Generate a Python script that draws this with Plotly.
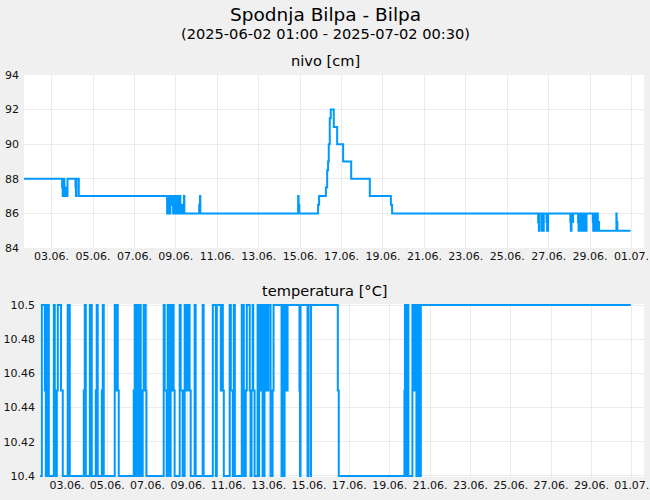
import plotly.graph_objects as go

title_text = "Spodnja Bilpa - Bilpa"
subtitle_text = "(2025-06-02 01:00 - 2025-07-02 00:30)"
panel_titles = ["nivo [cm]", "temperatura [°C]"]

nivo_times = [
    "2025-06-01 16:00", "2025-06-03 12:10", "2025-06-03 12:50", "2025-06-03 13:50", "2025-06-03 14:50",
    "2025-06-03 15:40", "2025-06-03 16:10", "2025-06-03 18:25", "2025-06-04 03:40", "2025-06-04 04:10",
    "2025-06-04 04:50", "2025-06-04 07:30", "2025-06-08 13:50", "2025-06-08 14:40", "2025-06-08 16:10",
    "2025-06-08 17:00", "2025-06-08 17:40", "2025-06-08 19:40", "2025-06-08 20:10", "2025-06-08 20:50",
    "2025-06-08 21:30", "2025-06-08 22:50", "2025-06-09 00:40", "2025-06-09 01:30", "2025-06-09 03:00",
    "2025-06-09 03:40", "2025-06-09 04:20", "2025-06-09 05:10", "2025-06-09 06:30", "2025-06-09 07:40",
    "2025-06-09 09:20", "2025-06-09 09:50", "2025-06-10 03:00", "2025-06-10 04:00", "2025-06-10 04:20",
    "2025-06-14 21:40", "2025-06-14 22:10", "2025-06-14 23:00", "2025-06-15 20:50", "2025-06-15 22:00",
    "2025-06-16 05:50", "2025-06-16 07:20", "2025-06-16 08:25", "2025-06-16 09:10", "2025-06-16 10:20",
    "2025-06-16 11:30", "2025-06-16 15:00", "2025-06-16 18:55", "2025-06-17 01:50", "2025-06-17 11:10",
    "2025-06-18 08:45", "2025-06-19 09:10", "2025-06-19 10:35", "2025-06-26 11:50", "2025-06-26 12:40",
    "2025-06-26 13:40", "2025-06-26 16:20", "2025-06-26 17:10", "2025-06-26 17:40", "2025-06-26 18:20",
    "2025-06-26 21:30", "2025-06-26 22:10", "2025-06-26 23:20", "2025-06-28 01:10", "2025-06-28 01:40",
    "2025-06-28 02:30", "2025-06-28 03:00", "2025-06-28 04:20", "2025-06-28 10:05", "2025-06-28 10:40",
    "2025-06-28 11:20", "2025-06-28 12:00", "2025-06-28 13:00", "2025-06-28 13:40", "2025-06-28 14:50",
    "2025-06-28 15:30", "2025-06-28 16:40", "2025-06-28 17:10", "2025-06-28 18:20", "2025-06-28 18:50",
    "2025-06-28 19:55", "2025-06-29 03:10", "2025-06-29 03:40", "2025-06-29 04:40", "2025-06-29 06:15",
    "2025-06-29 07:00", "2025-06-29 07:40", "2025-06-29 08:30", "2025-06-29 09:00", "2025-06-29 10:20",
    "2025-06-30 06:30", "2025-06-30 06:50", "2025-06-30 07:40", "2025-06-30 23:00",
]
nivo_values = [
    88, 87.5, 87, 88, 87,
    87.5, 87, 88, 87.5, 87,
    88, 87, 86, 87, 86.5,
    86, 87, 86.5, 87, 86,
    87, 86, 87, 86, 87,
    86, 87, 86, 86.5, 86,
    87, 86, 86.5, 87, 86,
    87, 86.5, 86, 86.5, 87,
    87.5, 88.5, 89, 90, 91.5,
    92, 91, 90, 89, 88,
    87, 86.5, 86, 85.5, 85,
    86, 85, 86, 85, 86,
    85.5, 85, 86, 85.5, 85,
    86, 85.5, 86, 85.5, 85,
    86, 85, 86, 85, 86,
    85, 86, 85, 86, 85,
    86, 85.5, 85, 86, 85,
    86, 85, 86, 85.5, 85,
    86, 85.5, 85, 85,
]

temp_times = [
    "2025-06-01 16:00",
    "2025-06-01 18:10", "2025-06-01 21:45", "2025-06-01 22:55",
    "2025-06-02 00:05", "2025-06-02 02:30",
    "2025-06-02 08:25", "2025-06-02 09:35", "2025-06-02 10:50",
    "2025-06-02 12:00", "2025-06-02 13:10", "2025-06-02 17:00", "2025-06-02 19:05",
    "2025-06-03 01:05", "2025-06-03 03:25",
    "2025-06-03 20:05", "2025-06-03 21:15", "2025-06-03 22:30",
    "2025-06-04 03:15", "2025-06-04 05:35",
    "2025-06-04 10:20", "2025-06-04 11:30", "2025-06-04 12:40",
    "2025-06-04 17:30", "2025-06-04 18:40", "2025-06-04 19:50",
    "2025-06-05 08:55", "2025-06-05 10:05", "2025-06-05 11:15", "2025-06-05 12:30", "2025-06-05 13:40",
    "2025-06-06 07:30", "2025-06-06 08:40", "2025-06-06 09:35", "2025-06-06 09:50", "2025-06-06 11:00",
    "2025-06-06 13:25", "2025-06-06 15:50",
    "2025-06-06 18:10", "2025-06-06 19:20", "2025-06-06 21:45", "2025-06-06 22:30",
    "2025-06-07 19:10", "2025-06-07 20:20", "2025-06-07 22:40", "2025-06-07 23:50",
    "2025-06-08 02:15", "2025-06-08 03:25", "2025-06-08 04:40", "2025-06-08 07:00", "2025-06-08 08:10",
    "2025-06-08 14:10", "2025-06-08 15:20", "2025-06-08 17:40",
    "2025-06-08 20:05", "2025-06-08 21:15", "2025-06-08 22:30", "2025-06-08 23:40",
    "2025-06-09 00:50", "2025-06-09 02:00", "2025-06-09 03:15",
    "2025-06-09 07:55", "2025-06-09 09:10",
    "2025-06-09 17:30", "2025-06-09 18:40",
    "2025-06-10 05:35", "2025-06-10 09:10", "2025-06-10 10:20", "2025-06-10 15:05", "2025-06-10 16:15",
    "2025-06-10 17:30", "2025-06-10 18:40",
    "2025-06-11 01:45", "2025-06-11 03:00", "2025-06-11 05:20", "2025-06-11 06:30", "2025-06-11 07:45",
    "2025-06-11 16:00", "2025-06-11 18:25", "2025-06-11 20:45", "2025-06-11 22:00",
    "2025-06-12 01:30", "2025-06-12 02:30", "2025-06-12 03:40", "2025-06-12 05:00", "2025-06-12 05:40",
    "2025-06-12 07:15",
    "2025-06-12 10:50", "2025-06-12 12:00", "2025-06-12 12:40", "2025-06-12 14:30", "2025-06-12 15:30",
    "2025-06-12 16:45",
    "2025-06-12 19:05", "2025-06-12 20:00", "2025-06-12 21:30", "2025-06-12 22:30", "2025-06-12 23:40",
    "2025-06-13 02:15", "2025-06-13 04:40", "2025-06-13 05:50",
    "2025-06-13 15:20", "2025-06-13 16:00", "2025-06-13 16:30", "2025-06-13 17:40", "2025-06-13 18:20",
    "2025-06-13 18:55", "2025-06-13 19:30", "2025-06-13 20:40", "2025-06-13 22:30",
    "2025-06-14 12:40", "2025-06-14 13:20", "2025-06-14 13:55",
    "2025-06-14 22:15", "2025-06-14 22:50",
    "2025-06-15 01:45", "2025-06-15 02:20",
    "2025-06-16 10:15", "2025-06-16 11:25",
    "2025-06-19 17:30", "2025-06-19 18:10", "2025-06-19 19:50", "2025-06-19 21:00", "2025-06-19 22:15",
    "2025-06-20 03:00", "2025-06-20 04:10", "2025-06-20 05:20", "2025-06-20 06:00", "2025-06-20 07:45",
    "2025-06-20 08:20", "2025-06-20 09:00", "2025-06-20 10:05", "2025-06-20 11:15", "2025-06-20 12:20",
    "2025-06-20 13:00",
    "2025-06-30 22:50",
]
temp_values = [
    10.4,
    10.5, 10.45, 10.4,
    10.5, 10.4,
    10.5, 10.45, 10.4,
    10.45, 10.5, 10.45, 10.4,
    10.5, 10.4,
    10.45, 10.5, 10.4,
    10.5, 10.4,
    10.45, 10.5, 10.4,
    10.45, 10.5, 10.4,
    10.5, 10.45, 10.5, 10.45, 10.4,
    10.45, 10.5, 10.4, 10.5, 10.4,
    10.5, 10.4,
    10.45, 10.5, 10.45, 10.4,
    10.5, 10.45, 10.4, 10.5,
    10.4, 10.45, 10.5, 10.45, 10.4,
    10.5, 10.45, 10.4,
    10.5, 10.45, 10.5, 10.45,
    10.5, 10.45, 10.4,
    10.5, 10.4,
    10.5, 10.4,
    10.5, 10.4, 10.5, 10.45, 10.5,
    10.45, 10.4,
    10.5, 10.45, 10.4, 10.5, 10.4,
    10.5, 10.4, 10.45, 10.5,
    10.45, 10.4, 10.45, 10.5, 10.45,
    10.4,
    10.5, 10.4, 10.5, 10.45, 10.5,
    10.4,
    10.5, 10.45, 10.5, 10.45, 10.5,
    10.4, 10.45, 10.5,
    10.4, 10.45, 10.5, 10.45, 10.4,
    10.45, 10.5, 10.45, 10.5,
    10.45, 10.4, 10.5,
    10.4, 10.5,
    10.4, 10.5,
    10.45, 10.4,
    10.45, 10.5, 10.4, 10.5, 10.4,
    10.5, 10.45, 10.5, 10.45, 10.4,
    10.5, 10.4, 10.5, 10.45, 10.4,
    10.5,
    10.5,
]

x_range = ["2025-06-01 16:00", "2025-07-01 14:30"]
nivo_range = [84, 94]
temp_range = [10.3994, 10.5006]

LINE = "#0099ff"
GRID = "#ebebeb"
BG = "#f0f0f0"
FONT = "DejaVu Sans"
W, H = 650, 500

fig = go.Figure()
fig.add_trace(go.Scatter(x=nivo_times, y=nivo_values, mode="lines", line_shape="hv",
                         line=dict(color=LINE, width=2), xaxis="x", yaxis="y",
                         showlegend=False, hoverinfo="x+y"))
fig.add_trace(go.Scatter(x=temp_times, y=temp_values, mode="lines", line_shape="hv",
                         line=dict(color=LINE, width=2), xaxis="x2", yaxis="y2",
                         showlegend=False, hoverinfo="x+y"))

xcommon = dict(type="date", range=x_range, tick0="2025-06-03", dtick=2 * 86400000,
               tickformat="%d.%m.", showgrid=True, gridcolor=GRID, gridwidth=1,
               zeroline=False, showline=False, ticks="", automargin=False,
               tickfont=dict(family=FONT, size=11, color="#111"), fixedrange=True)
ycommon = dict(showgrid=True, gridcolor=GRID, gridwidth=1, zeroline=False, showline=False,
               ticks="", automargin=False, ticklabelstandoff=4,
               tickfont=dict(family=FONT, size=11, color="#111"), fixedrange=True)

fig.update_layout(
    width=W, height=H,
    margin=dict(l=0, r=0, t=0, b=0),
    paper_bgcolor=BG,
    plot_bgcolor="#ffffff",
    font=dict(family=FONT, color="#000"),
    xaxis=dict(domain=[24 / W, 644 / W], anchor="y", **xcommon),
    yaxis=dict(domain=[(H - 248) / H, (H - 75) / H], anchor="x", range=nivo_range, dtick=2, **ycommon),
    xaxis2=dict(domain=[40 / W, 644 / W], anchor="y2", **xcommon),
    yaxis2=dict(domain=[(H - 477) / H, (H - 304) / H], anchor="x2", range=temp_range,
                tick0=10.4, dtick=0.02, **ycommon),
    annotations=[
        dict(text=title_text, x=0.5, y=(H - 14) / H, xref="paper", yref="paper",
             xanchor="center", yanchor="middle", showarrow=False,
             font=dict(family=FONT, size=18.5, color="#000")),
        dict(text=subtitle_text, x=0.5, y=(H - 34) / H, xref="paper", yref="paper",
             xanchor="center", yanchor="middle", showarrow=False,
             font=dict(family=FONT, size=14.6, color="#000")),
        dict(text=panel_titles[0], x=0.5, y=(H - 60) / H, xref="paper", yref="paper",
             xanchor="center", yanchor="middle", showarrow=False,
             font=dict(family=FONT, size=14.6, color="#000")),
        dict(text=panel_titles[1], x=0.5, y=(H - 290) / H, xref="paper", yref="paper",
             xanchor="center", yanchor="middle", showarrow=False,
             font=dict(family=FONT, size=14.6, color="#000")),
    ],
)

fig.write_html(
    "out.html",
    config={"displayModeBar": False},
    post_script="document.body.style.margin='0';document.body.style.padding='0';"
                "document.body.style.background='" + BG + "';"
                "document.documentElement.style.overflow='hidden';",
)
